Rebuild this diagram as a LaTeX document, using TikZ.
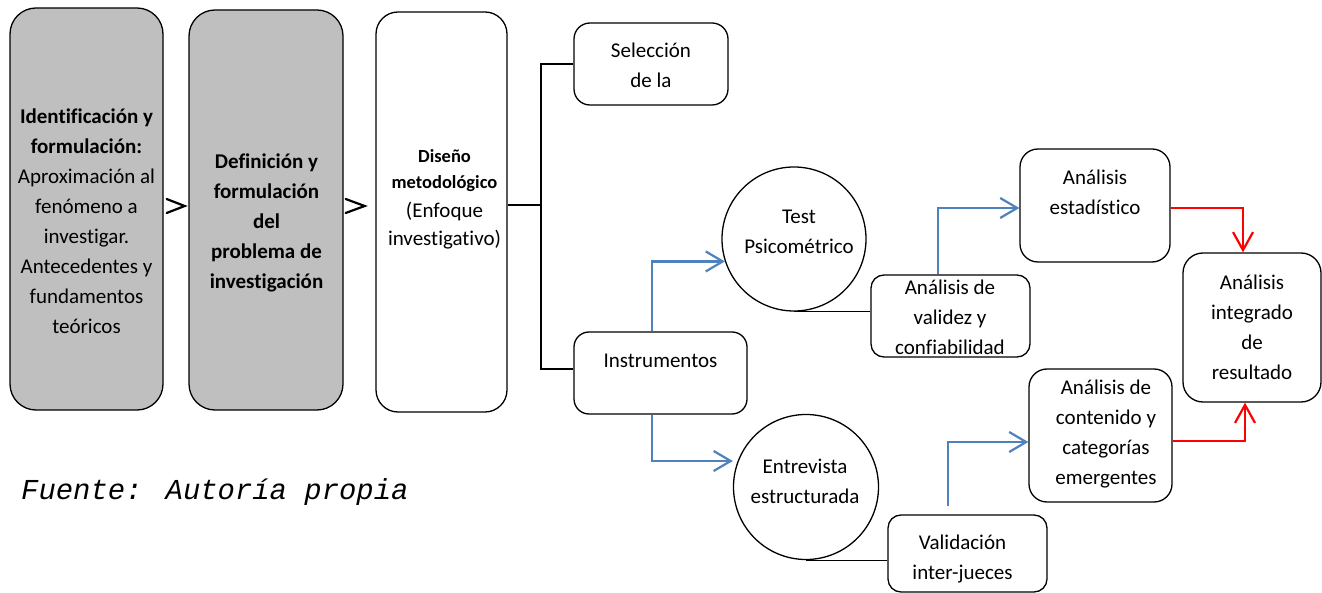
\documentclass[tikz,border=0pt]{standalone}
\usepackage{fontspec}
\setmainfont[Ligatures=NoCommon]{Carlito}
\newfontfamily\monofam{Liberation Mono}
\usetikzlibrary{arrows.meta,shapes.geometric}
\definecolor{greyfill}{HTML}{BFBFBF}
\definecolor{bluearr}{HTML}{4F81BD}
\definecolor{redarr}{HTML}{FF0000}
\tikzset{
  box/.style={draw=black, line width=1.3pt, rounded corners=#1, inner sep=0pt},
  greybox/.style={box=#1, fill=greyfill},
  circ/.style={draw=black, line width=1.3pt, circle, inner sep=0pt},
  txt/.style={align=center, inner sep=0pt, font=\fontsize{21}{30}\selectfont},
  txtb/.style={align=center, inner sep=0pt, font=\fontsize{18.5}{26}\selectfont\bfseries},
  conn/.style={draw=black, line width=1.3pt},
  brk/.style={draw=black, line width=2pt},
  chev/.style={draw=black, line width=2.2pt, line cap=round},
  bluearrow/.style={draw=bluearr, line width=2.2pt, -{Straight Barb[length=17pt,width=20pt]}},
  redarrow/.style={draw=redarr, line width=2.2pt, -{Straight Barb[length=18pt,width=20pt]}},
}
\begin{document}
\begin{tikzpicture}[x=1pt,y=-1pt]
\useasboundingbox (0,0) rectangle (1322,593);
% main boxes
\node[greybox=26pt, minimum width=153pt, minimum height=402pt] (b1) at (86.5,209) {};
\node[greybox=26pt, minimum width=154pt, minimum height=400pt] (b2) at (266,210) {};
\node[box=22pt, minimum width=131pt, minimum height=400pt] (b3) at (441.5,212) {};
\node[txt] (t1) at (86.5,222.5) {\strut\textbf{Identificación y}\\ \strut\textbf{formulación:}\\ \strut Aproximación al\\ \strut fenómeno a\\ \strut investigar.\\ \strut Antecedentes y\\ \strut fundamentos\\ \strut teóricos};
\node[txt, font=\fontsize{21}{30}\selectfont\bfseries] (t2) at (266.5,223) {\strut Definición y\\ \strut formulación\\ \strut del\\ \strut problema de\\ \strut investigación};
\node[txtb] (t3a) at (444.5,170) {\strut Diseño\\ \strut metodológico};
\node[txt, font=\fontsize{21}{28.5}\selectfont] (t3b) at (444.5,226) {\strut(Enfoque\\ \strut investigativo)};
% chevrons
\coordinate (c1a) at ([xshift=3pt,yshift=10pt]b1.east);
\coordinate (c1b) at ([xshift=21pt,yshift=3pt]b1.east);
\coordinate (c1c) at ([xshift=3pt,yshift=-4pt]b1.east);
\draw[chev] (c1a) -- (c1b) -- (c1c);
\coordinate (c2a) at ([xshift=2pt,yshift=11pt]b2.east);
\coordinate (c2b) at ([xshift=21pt,yshift=4pt]b2.east);
\coordinate (c2c) at ([xshift=2pt,yshift=-3pt]b2.east);
\draw[chev] (c2a) -- (c2b) -- (c2c);
% right side boxes
\node[box=16pt, minimum width=154pt, minimum height=82pt] (sel) at (651,64) {};
\node[txt] (tsel) at (651,67) {\strut Selección\\ \strut de la};
\node[box=15pt, minimum width=173pt, minimum height=82pt] (ins) at (660.5,373) {};
\node[txt] (tins) at (660.5,361) {\strut Instrumentos};
\node[circ, minimum size=144pt] (test) at (794,239) {};
\node[txt] (ttest) at (799,232.5) {\strut Test\\ \strut Psicométrico};
\node[box=13pt, minimum width=159pt, minimum height=82pt] (val) at (950.5,316) {};
\node[txt] (tval) at (950,318.5) {\strut Análisis de\\ \strut validez y\\ \strut confiabilidad};
\node[box=18pt, minimum width=150pt, minimum height=113pt] (est) at (1095,205.5) {};
\node[txt] (test2) at (1095,193.5) {\strut Análisis\\ \strut estadístico};
\node[box=20pt, minimum width=138pt, minimum height=149pt] (int) at (1252,327.5) {};
\node[txt] (tint) at (1252,328.5) {\strut Análisis\\ \strut integrado\\ \strut de\\ \strut resultado};
\node[circ, minimum size=145pt] (ent) at (806,487) {};
\node[txt] (tent) at (805,482.5) {\strut Entrevista\\ \strut estructurada};
\node[box=13pt, minimum width=159pt, minimum height=77pt] (vj) at (967.5,553.5) {};
\node[txt] (tvj) at (962.5,558) {\strut Validación\\ \strut inter-jueces};
\node[box=18pt, minimum width=143pt, minimum height=133pt] (con) at (1100.5,435.5) {};
\node[txt] (tcon) at (1106,433.5) {\strut Análisis de\\ \strut contenido y\\ \strut categorías\\ \strut emergentes};
% bracket
\coordinate (br) at (540.5,205);
\coordinate (bt) at (540.5,64);
\coordinate (bb) at (540.5,369);
\draw[brk] (b3.east |- br) -- (br);
\draw[brk] (sel.west) -- (bt) -- (bb) -- (ins.west |- bb);
% blue arrows
\draw[bluearrow] ([xshift=-8.5pt]ins.north) |- (test.198.7);
\draw[bluearrow] ([xshift=-8.5pt]ins.south) |- ([yshift=26pt]ent.west);
\draw[bluearrow] ([xshift=-12.5pt]val.north) |- ([yshift=-2.5pt]est.west);
\draw[bluearrow] ([xshift=-19.5pt,yshift=8pt]vj.north) |- ([yshift=-6.5pt]con.west);
% black thin connectors
\draw[conn] (test.south) -- (test.south -| val.west);
\draw[conn] (ent.south) -- (ent.south -| vj.west);
% red arrows
\draw[redarrow] ([yshift=-2.5pt]est.east) -| ([xshift=-9pt]int.north);
\draw[redarrow] ([yshift=-5.5pt]con.east) -| ([xshift=-7pt]int.south);
% source
\node[anchor=base west, inner sep=0pt, font=\monofam\itshape\fontsize{28.9}{32}\selectfont] (src) at (21,499) {Fuente: Autoría propia};
\end{tikzpicture}
\end{document}
